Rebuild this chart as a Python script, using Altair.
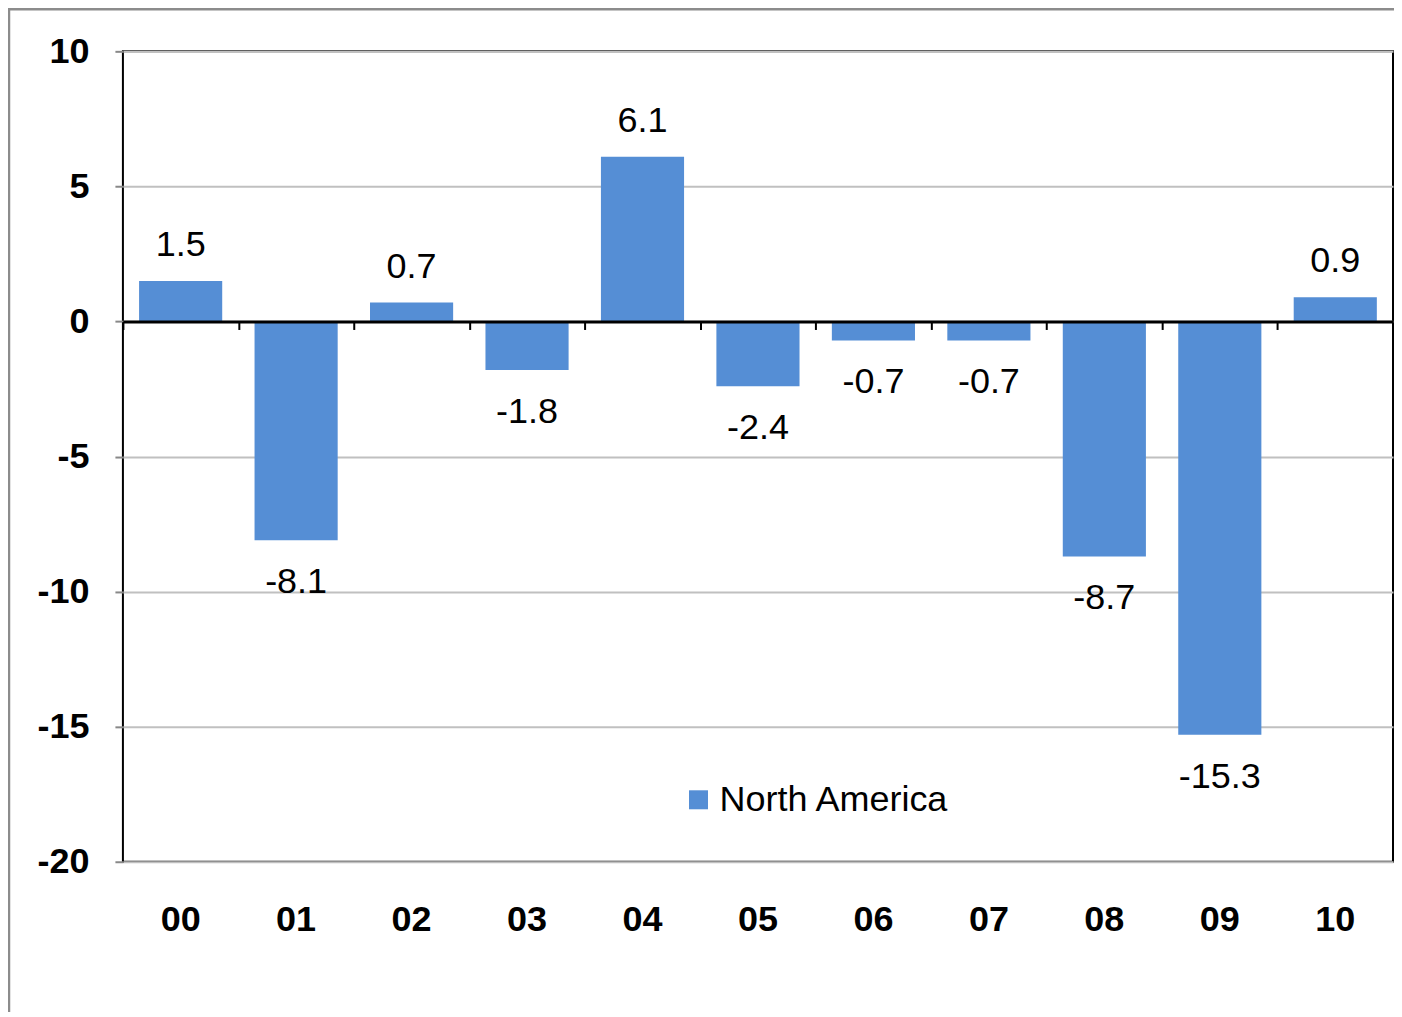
import altair as alt
import pandas as pd

years = ["00", "01", "02", "03", "04", "05", "06", "07", "08", "09", "10"]
values = [1.5, -8.1, 0.7, -1.8, 6.1, -2.4, -0.7, -0.7, -8.7, -15.3, 0.9]
series_name = "North America"
y_ticks = [10, 5, 0, -5, -10, -15, -20]

df = pd.DataFrame({"year": years, "value": values, "series": [series_name] * len(years)})
df["label"] = df["value"].map(lambda v: f"{v:.1f}")

W, H = 1271, 811
FONT = "Liberation Sans"
BAR = "#558ED5"
PAD_IN = 0.28
STEP = W / len(years)

xscale = alt.Scale(domain=years, paddingInner=PAD_IN, paddingOuter=PAD_IN / 2)
yscale = alt.Scale(domain=[-20, 10], nice=False, zero=False)

base = alt.Chart(df)

frame = alt.Chart(pd.DataFrame({"f": [0]})).mark_rect(
    fill="white", fillOpacity=0, stroke="#8C8C8C", strokeWidth=2.5
).encode(
    x=alt.value(-114), x2=alt.value(1500), y=alt.value(-42), y2=alt.value(1200)
)

bars = base.mark_bar().encode(
    x=alt.X("year:N", scale=xscale, sort=years,
            axis=alt.Axis(orient="bottom", title=None, labelAngle=0, labelFont=FONT,
                          labelFontSize=36, labelFontWeight="bold", labelColor="black",
                          ticks=False, tickSize=0, domain=False, labelPadding=41, grid=False)),
    y=alt.Y("value:Q", scale=yscale,
            axis=alt.Axis(values=y_ticks, title=None, grid=True, gridColor="#C0C0C0",
                          gridWidth=2, domain=False, tickColor="#888888", tickSize=8,
                          tickWidth=2, labelFont=FONT, labelFontSize=36,
                          labelFontWeight="bold", labelColor="black", labelPadding=26,
                          labelExpr="datum.value < 0 ? '-' + abs(datum.value) : '' + datum.value")),
    color=alt.Color("series:N", scale=alt.Scale(domain=[series_name], range=[BAR]),
                    legend=alt.Legend(orient="none", legendX=558, legendY=731, title=None,
                                      symbolType="square", symbolSize=361,
                                      symbolStrokeWidth=0, labelFontSize=36,
                                      labelFont=FONT, labelColor="black", labelOffset=3,
                                      labelLimit=600, padding=0)),
)

pos_labels = base.transform_filter("datum.value >= 0").mark_text(
    font=FONT, fontSize=36, color="black", baseline="alphabetic", dy=-25
).encode(
    x=alt.X("year:N", scale=xscale, sort=years, axis=None),
    y=alt.Y("value:Q", scale=yscale),
    text="label:N",
)

neg_labels = base.transform_filter("datum.value < 0").mark_text(
    font=FONT, fontSize=36, color="black", baseline="alphabetic", dy=53
).encode(
    x=alt.X("year:N", scale=xscale, sort=years, axis=None),
    y=alt.Y("value:Q", scale=yscale),
    text="label:N",
)

zero_axis = base.mark_point(opacity=0).encode(
    x=alt.X("year:N", scale=xscale, sort=years,
            axis=alt.Axis(orient="bottom", offset=-(H * 20 / 30), labels=False, title=None,
                          domainColor="black", domainWidth=3, tickColor="black",
                          tickWidth=2, tickSize=8, bandPosition=0,
                          tickOffset=-(PAD_IN * STEP / 2), grid=False, zindex=2)),
)

chart = alt.layer(frame, bars, pos_labels, neg_labels, zero_axis).resolve_axis(
    x="independent"
).properties(
    width=W, height=H,
    autosize=alt.AutoSizeParams(type="none"),
    padding={"left": 115, "top": 43, "right": 1, "bottom": 150},
).configure_view(stroke="black", strokeWidth=2)

chart.save("out.html", embed_options={"renderer": "svg", "actions": False})
